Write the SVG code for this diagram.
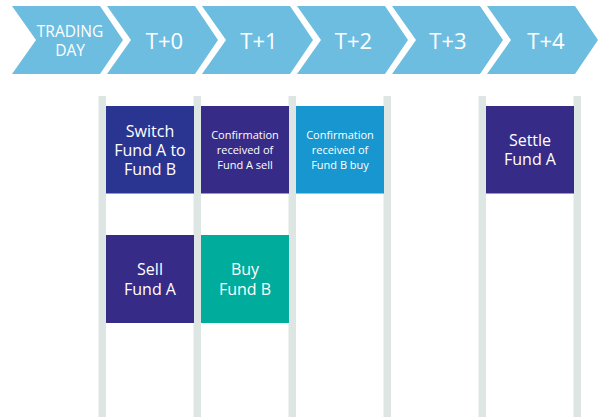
<svg xmlns="http://www.w3.org/2000/svg" width="605" height="417" viewBox="0 0 605 417">
  <style>
    .chev { fill: #6dbde1; }
    .bar { fill: #dde6e3; }
    .lbl { font-family: "Open Sans", "Noto Sans", sans-serif; fill: #ffffff; text-anchor: middle; }
    .day { font-size: 22px; }
    .td { font-size: 15.5px; }
    .big { font-size: 16px; }
    .small { font-size: 11px; }
    .navy { fill: #2a3591; }
    .purple { fill: #362c88; }
    .sky { fill: #1896cf; }
    .teal { fill: #00ac9b; }
  </style>
  <defs>
    <polygon id="chevron" points="0,6 88,6 111,40 88,74 0,74 24,40"/>
  </defs>

  <!-- day timeline -->
  <g id="timeline">
    <g id="day-trading">
      <use href="#chevron" x="12" class="chev"/>
      <text class="lbl td" x="70" y="36.5">TRADING</text>
      <text class="lbl td" x="70" y="56">DAY</text>
    </g>
    <g id="day-t0">
      <use href="#chevron" x="107" class="chev"/>
      <text class="lbl day" x="164.5" y="49">T+0</text>
    </g>
    <g id="day-t1">
      <use href="#chevron" x="202" class="chev"/>
      <text class="lbl day" x="259" y="49">T+1</text>
    </g>
    <g id="day-t2">
      <use href="#chevron" x="297" class="chev"/>
      <text class="lbl day" x="353.5" y="49">T+2</text>
    </g>
    <g id="day-t3">
      <use href="#chevron" x="392" class="chev"/>
      <text class="lbl day" x="448" y="49">T+3</text>
    </g>
    <g id="day-t4">
      <use href="#chevron" x="487" class="chev"/>
      <text class="lbl day" x="546" y="49">T+4</text>
    </g>
  </g>

  <!-- column dividers -->
  <g id="connectors">
    <rect class="bar" x="98.5" y="96" width="7.5" height="321"/>
    <rect class="bar" x="193.5" y="96" width="7.5" height="321"/>
    <rect class="bar" x="288.5" y="96" width="7.5" height="321"/>
    <rect class="bar" x="383.5" y="96" width="7.5" height="321"/>
    <rect class="bar" x="478.5" y="96" width="7.5" height="321"/>
    <rect class="bar" x="573.5" y="96" width="7.5" height="321"/>
  </g>

  <!-- events -->
  <g id="switch">
    <rect class="navy" x="106" y="106" width="88" height="87.5"/>
    <text class="lbl big" x="150" y="137">Switch</text>
    <text class="lbl big" x="150" y="156">Fund A to</text>
    <text class="lbl big" x="150" y="175">Fund B</text>
  </g>
  <g id="confirm-sell">
    <rect class="purple" x="201" y="106" width="88" height="87.5"/>
    <text class="lbl small" x="245" y="139">Confirmation</text>
    <text class="lbl small" x="245" y="154">received of</text>
    <text class="lbl small" x="245" y="169">Fund A sell</text>
  </g>
  <g id="confirm-buy">
    <rect class="sky" x="296" y="106" width="88" height="87.5"/>
    <text class="lbl small" x="340" y="139">Confirmation</text>
    <text class="lbl small" x="340" y="154">received of</text>
    <text class="lbl small" x="340" y="169">Fund B buy</text>
  </g>
  <g id="settle">
    <rect class="purple" x="486" y="106" width="88" height="87.5"/>
    <text class="lbl big" x="530" y="146">Settle</text>
    <text class="lbl big" x="530" y="165">Fund A</text>
  </g>
  <g id="sell">
    <rect class="purple" x="106" y="235" width="88" height="88"/>
    <text class="lbl big" x="150" y="275">Sell</text>
    <text class="lbl big" x="150" y="295">Fund A</text>
  </g>
  <g id="buy">
    <rect class="teal" x="201" y="235" width="88" height="88"/>
    <text class="lbl big" x="245" y="275">Buy</text>
    <text class="lbl big" x="245" y="295">Fund B</text>
  </g>
</svg>
